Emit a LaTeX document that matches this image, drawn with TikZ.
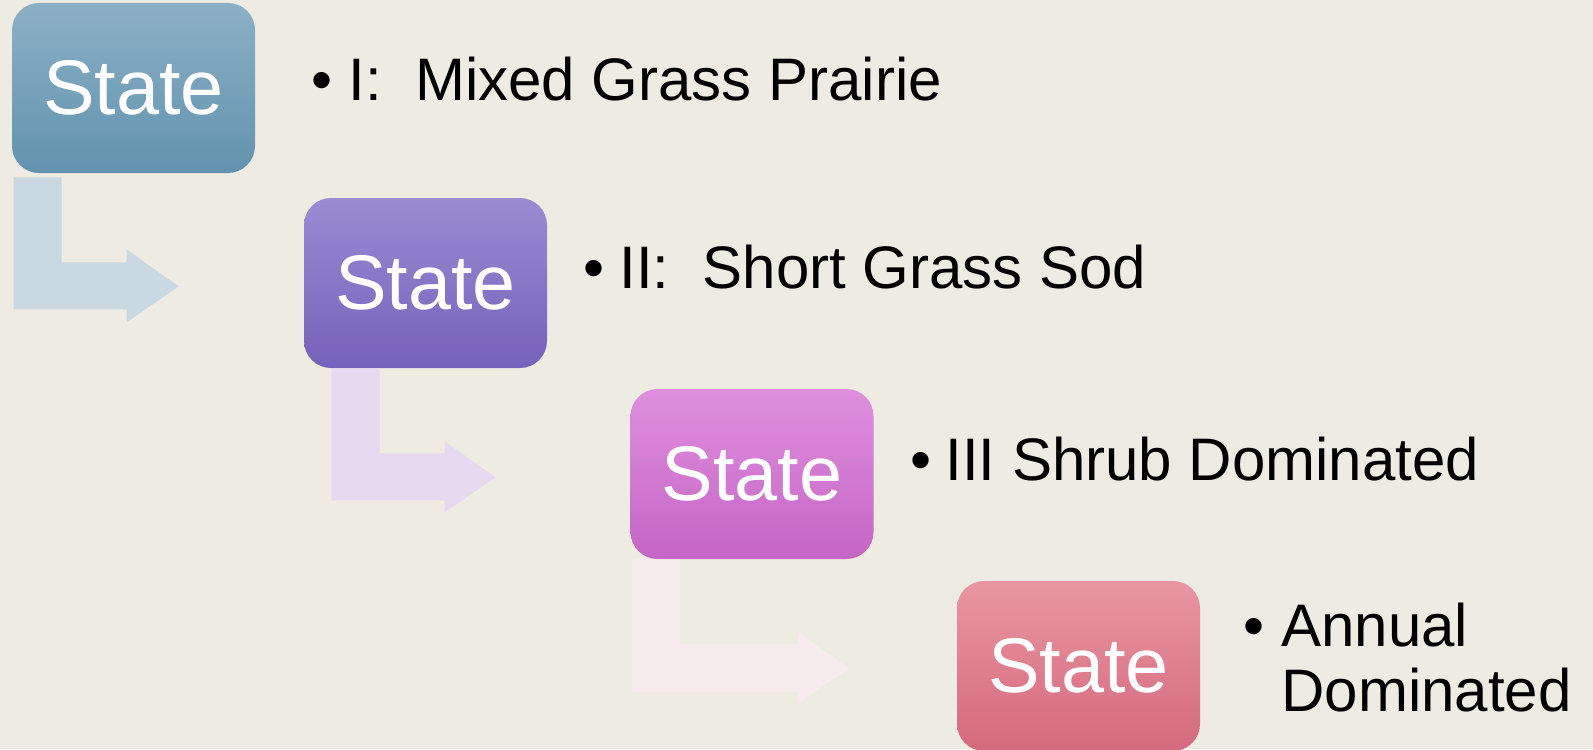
\documentclass[tikz,border=0pt]{standalone}
\usepackage{fontspec}
\setmainfont{Liberation Sans}
\usetikzlibrary{calc}
\definecolor{bg}{HTML}{EEEBE3}
\definecolor{b1top}{HTML}{8CB0C6}
\definecolor{b1bot}{HTML}{6293AE}
\definecolor{b2top}{HTML}{9A8BD3}
\definecolor{b2bot}{HTML}{7562BA}
\definecolor{b3top}{HTML}{DF8FDF}
\definecolor{b3bot}{HTML}{C565C4}
\definecolor{b4top}{HTML}{E996A2}
\definecolor{b4bot}{HTML}{D4697D}
\definecolor{a1c}{HTML}{CAD8E1}
\definecolor{a2c}{HTML}{E7D9F0}
\definecolor{a3c}{HTML}{F8EBEE}
\begin{document}
\begin{tikzpicture}[x=0.5pt,y=-0.5pt,
  statebox/.style={rounded corners=13.5pt, minimum width=121.5pt, minimum height=85pt,
    inner sep=0pt, text=white, font=\fontsize{38.7}{40}\selectfont},
  bultext/.style={anchor=base west, inner sep=0pt, text=black, font=\fontsize{30}{32.5}\selectfont},
  bendarrow/.style={draw=none}]
\useasboundingbox (0,0) rectangle (1593,749);
\fill[bg] (0,0) rectangle (1593,749);
\clip (0,0) rectangle (1593,749);

% boxes
\node[statebox, top color=b1top, bottom color=b1bot] (b1) at (133.5,88) {State};
\node[statebox, top color=b2top, bottom color=b2bot] (b2) at (425.5,283) {State};
\node[statebox, top color=b3top, bottom color=b3bot] (b3) at (752,474) {State};
\node[statebox, top color=b4top, bottom color=b4bot] (b4) at (1078.5,666) {State};

% bent arrows
\fill[a1c] ($(b1.south west)+(2,4)$) -- ++(48,0) -- ++(0,85) -- ++(65,0) -- ++(0,-13)
  -- ++(52,37) -- ++(-52,36) -- ++(0,-13) -- ++(-113,0) -- cycle;
\fill[a2c] ($(b2.south west)+(28,0)$) -- ++(48,0) -- ++(0,85) -- ++(65,0) -- ++(0,-12)
  -- ++(51,36) -- ++(-51,35) -- ++(0,-12) -- ++(-113,0) -- cycle;
\fill[a3c] ($(b3.south west)+(2,0)$) -- ++(48,0) -- ++(0,85) -- ++(118,0) -- ++(0,-12)
  -- ++(51,36) -- ++(-51,35) -- ++(0,-11) -- ++(-166,0) -- cycle;

% bullets and texts
\node[bultext] (p1) at (311,101) {•};
\node[bultext] (t1) at (348,101) {I:\ \ Mixed Grass Prairie};
\node[bultext] (p2) at (583,288) {•};
\node[bultext] (t2) at (619,288) {II:\ \ Short Grass Sod};
\node[bultext] (p3) at (910,480) {•};
\node[bultext] (t3) at (945,480) {III Shrub Dominated};
\node[bultext] (p4) at (1243,646) {•};
\node[bultext] (t4a) at (1281,646) {Annual};
\node[bultext] (t4b) at (1281,711) {Dominated};
\end{tikzpicture}
\end{document}
